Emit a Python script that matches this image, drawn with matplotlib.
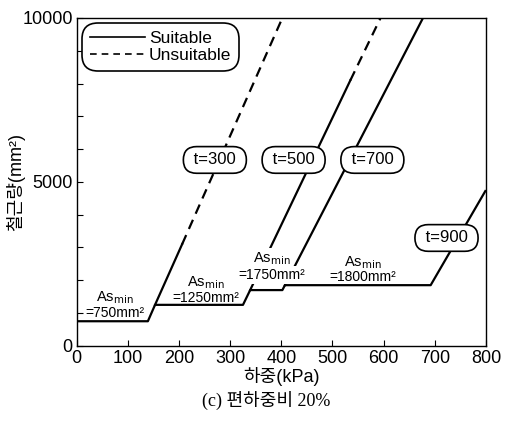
import matplotlib
matplotlib.use("Agg")
import matplotlib.pyplot as plt
from matplotlib.ticker import MultipleLocator

plt.rcParams['font.family'] = ['Liberation Sans', 'Noto Sans CJK KR', 'DejaVu Sans']

# Envelope of minimum reinforcement (solid)
env_load = [0, 139, 153, 325, 339, 402, 407, 692, 800]
env_as = [750, 750, 1250, 1250, 1700, 1700, 1850, 1850, 4750]

# Thickness branches
t300_solid_load = [153, 206]
t300_solid_as = [1250, 3100]
t300_dash_load = [206, 402]
t300_dash_as = [3100, 10000]

t500_solid_load = [339, 535]
t500_solid_as = [1700, 8100]
t500_dash_load = [535, 594]
t500_dash_as = [8100, 10000]

t700_solid_load = [407, 677]
t700_solid_as = [1850, 10000]

# Labels
t_labels = ['t=300', 't=500', 't=700', 't=900']
t_label_load = [270, 424, 578, 723]
t_label_as = [5670, 5670, 5670, 3290]

asmin_texts = ['=750mm²', '=1250mm²', '=1750mm²', '=1800mm²']
asmin_load = [75, 253, 382, 559]
asmin_top = [1460, 1920, 2650, 2530]
asmin_bot = [1000, 1460, 2160, 2100]

fig = plt.figure(figsize=(5.12, 4.28), dpi=100)
ax = fig.add_axes([0.150, 0.192, 0.799, 0.766])

lw = 1.6
ax.plot(env_load, env_as, color='black', lw=lw, solid_capstyle='butt')
ax.plot(t300_solid_load, t300_solid_as, color='black', lw=lw)
ax.plot(t300_dash_load, t300_dash_as, color='black', lw=lw, ls=(0, (4.5, 3)))
ax.plot(t500_solid_load, t500_solid_as, color='black', lw=lw)
ax.plot(t500_dash_load, t500_dash_as, color='black', lw=lw, ls=(0, (4.5, 3)))
ax.plot(t700_solid_load, t700_solid_as, color='black', lw=lw)

# legend handles
ax.plot([], [], color='black', lw=1.2, label='Suitable')
ax.plot([], [], color='black', lw=1.2, ls=(0, (4, 3)), label='Unsuitable')

ax.set_xlim(0, 800)
ax.set_ylim(0, 10000)
ax.xaxis.set_major_locator(MultipleLocator(100))
ax.yaxis.set_major_locator(MultipleLocator(5000))
ax.yaxis.set_minor_locator(MultipleLocator(1000))
ax.tick_params(which='both', direction='in', labelsize=13, length=4, width=0.8)
ax.tick_params(axis='x', pad=3)
ax.tick_params(axis='y', pad=3)
for s in ax.spines.values():
    s.set_linewidth(1.0)

for lab, x, y in zip(t_labels, t_label_load, t_label_as):
    ax.text(x, y, ' ' + lab + ' ', fontsize=12, ha='center', va='center', zorder=5,
            bbox=dict(boxstyle='round,pad=0.35,rounding_size=0.8', fc='white', ec='black', lw=1.2))

for i, (txt, x, yt, yb) in enumerate(zip(asmin_texts, asmin_load, asmin_top, asmin_bot)):
    bb = dict(boxstyle='square,pad=0.15', fc='white', ec='none') if i == 2 else None
    ax.text(x, yt, r'As$_{\mathrm{min}}$', fontsize=10.5, ha='center', va='center', zorder=4, bbox=bb)
    ax.text(x, yb, txt, fontsize=10, ha='center', va='center', zorder=4, bbox=bb)

leg = ax.legend(loc='upper left', fontsize=12.5, frameon=True, fancybox=True,
                edgecolor='black', handlelength=3.2, handletextpad=0.2,
                borderpad=0.25, labelspacing=0.1, borderaxespad=0.5)
leg.get_frame().set_linewidth(1.2)
leg.get_frame().set_boxstyle('round,pad=0.2,rounding_size=0.9')
leg.get_frame().set_alpha(1)

ax.set_xlabel('하중(kPa)', fontsize=13, labelpad=0)
ax.set_ylabel('철근량(mm²)', fontsize=13, labelpad=-2)

fig.text(0.52, 0.065, '(c) 편하중비 20%', ha='center', va='center', fontsize=13,
         family=['Liberation Serif', 'Noto Sans CJK KR'])

fig.savefig('out.png', dpi=100)
